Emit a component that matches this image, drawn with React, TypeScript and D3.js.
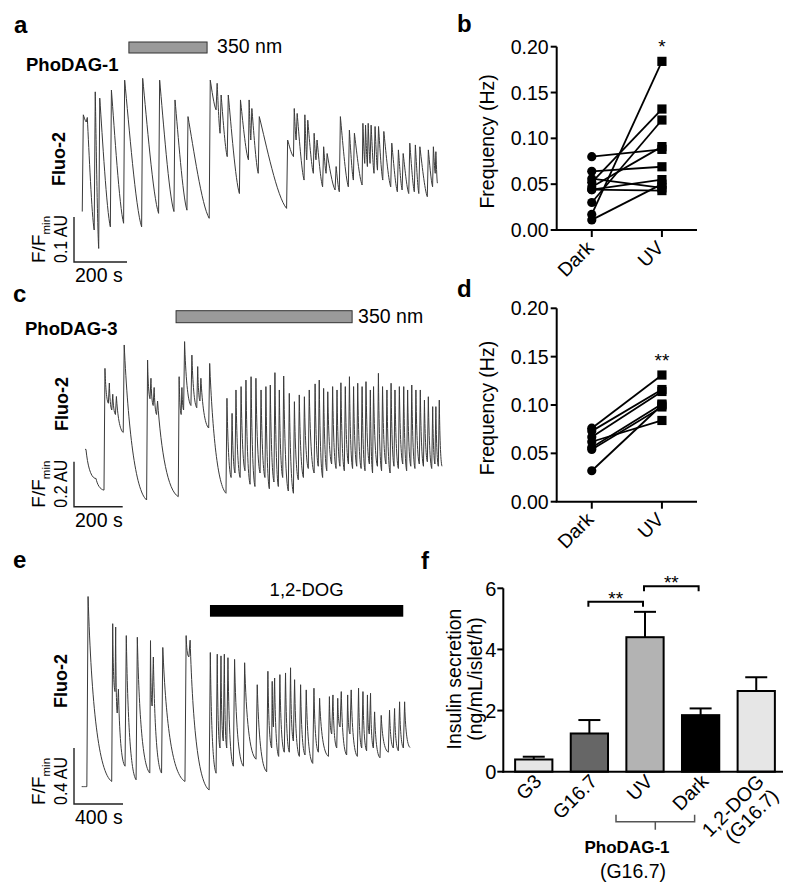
import React from "react";
import * as d3 from "d3";

type Ev = [number, number, number]; // [time (s), trough before rise (F/Fmin), peak (F/Fmin)]

// ---------- Panel a : PhoDAG-1 Fluo-2 trace ----------
const traceA: Ev[] = [
  [1, 1.081, 1.296], [16, 1.28, 1.29], [46, 1.04, 1.347], [63, 0.999, 1.333],
  [107, 1.047, 1.351], [157, 1.055, 1.373], [225, 1.047, 1.377], [289, 1.077, 1.373],
  [347, 1.081, 1.329], [396, 1.084, 1.292], [480, 1.066, 1.373], [506, 1.307, 1.366],
  [521, 1.255, 1.34], [548, 1.203, 1.34], [594, 1.121, 1.329], [628, 1.196, 1.329],
  [637, 1.24, 1.31], [665, 1.166, 1.292], [772, 1.088, 1.24], [798, 1.203, 1.31],
  [808, 1.24, 1.299], [838, 1.151, 1.296], [848, 1.196, 1.284], [873, 1.166, 1.255],
  [883, 1.196, 1.24], [908, 1.136, 1.225], [921, 1.166, 1.21], [955, 1.129, 1.181],
  [971, 1.125, 1.292], [1005, 1.136, 1.262], [1024, 1.151, 1.255], [1057, 1.14, 1.277],
  [1067, 1.188, 1.273], [1077, 1.181, 1.277], [1087, 1.188, 1.273], [1102, 1.166, 1.27],
  [1115, 1.173, 1.27], [1135, 1.151, 1.259], [1165, 1.136, 1.233], [1190, 1.125, 1.218],
  [1208, 1.129, 1.21], [1233, 1.121, 1.233], [1254, 1.125, 1.229], [1271, 1.121, 1.225],
  [1303, 1.114, 1.218], [1323, 1.136, 1.225], [1333, 1.166, 1.214],
];
const traceAEnd: [number, number] = [1341, 1.144];
const uvBarA: [number, number] = [177, 472];

// ---------- Panel c : PhoDAG-3 Fluo-2 trace ----------
const traceC: Ev[] = [
  [0, 1.225, 1.225], [41, 1.096, 1.096], [78, 1.044, 1.585], [96, 1.43, 1.52],
  [110, 1.4, 1.47], [125, 1.38, 1.46], [157, 1.3, 1.689], [253, 1.0, 1.622],
  [267, 1.45, 1.541], [280, 1.42, 1.5], [294, 1.38, 1.44], [383, 1.015, 1.548],
  [395, 1.38, 1.5], [405, 1.4, 1.704], [435, 1.42, 1.644], [459, 1.41, 1.593],
  [472, 1.44, 1.541], [508, 1.32, 1.607], [579, 1.03, 1.452], [600, 1.1, 1.385],
  [616, 1.12, 1.489], [637, 1.1, 1.504], [657, 1.13, 1.533], [678, 1.07, 1.548],
  [698, 1.06, 1.541], [719, 1.12, 1.489], [739, 1.1, 1.504], [757, 1.05, 1.511],
  [776, 1.08, 1.566], [794, 1.06, 1.489], [812, 1.1, 1.551], [835, 1.04, 1.474],
  [856, 1.03, 1.437], [876, 1.09, 1.467], [897, 1.1, 1.459], [917, 1.14, 1.489],
  [941, 1.12, 1.516], [958, 1.15, 1.533], [976, 1.1, 1.496], [993, 1.13, 1.481],
  [1013, 1.16, 1.504], [1031, 1.14, 1.489], [1047, 1.15, 1.521], [1065, 1.13, 1.504],
  [1082, 1.16, 1.548], [1099, 1.14, 1.504], [1116, 1.15, 1.519], [1134, 1.14, 1.504],
  [1150, 1.13, 1.526], [1168, 1.16, 1.489], [1181, 1.12, 1.504], [1201, 1.15, 1.563],
  [1218, 1.13, 1.504], [1236, 1.16, 1.489], [1253, 1.12, 1.519], [1269, 1.15, 1.489],
  [1287, 1.14, 1.504], [1305, 1.16, 1.504], [1321, 1.13, 1.489], [1338, 1.15, 1.511],
  [1355, 1.14, 1.489], [1373, 1.16, 1.489], [1390, 1.15, 1.444], [1406, 1.17, 1.459],
  [1424, 1.14, 1.415], [1437, 1.16, 1.415], [1451, 1.15, 1.444],
];
const traceCEnd: [number, number] = [1466, 1.15];
const uvBarC: [number, number] = [374, 1097];

// ---------- Panel e : 1,2-DOG Fluo-2 trace ----------
const traceE: Ev[] = [
  [0, 1.024, 1.024], [42, 1.024, 2.382], [245, 1.061, 2.188], [272, 1.703, 2.164],
  [290, 1.55, 1.72], [354, 1.17, 2.103], [444, 1.073, 2.091], [556, 1.121, 2.067],
  [575, 1.6, 1.95], [652, 1.121, 2.018], [843, 1.061, 2.103], [875, 1.95, 2.07],
  [1040, 1.0, 1.982], [1097, 1.12, 1.97], [1129, 1.3, 1.958], [1156, 1.35, 1.97],
  [1184, 1.3, 1.945], [1238, 1.17, 1.933], [1320, 1.17, 1.909], [1423, 1.22, 1.752],
  [1510, 1.13, 1.848], [1551, 1.3, 1.776], [1565, 1.45, 1.8], [1608, 1.24, 1.824],
  [1654, 1.27, 1.836], [1695, 1.27, 1.873], [1728, 1.35, 1.788], [1777, 1.24, 1.752],
  [1823, 1.25, 1.715], [1886, 1.19, 1.727], [1932, 1.27, 1.655], [2014, 1.24, 1.667],
  [2041, 1.4, 1.679], [2082, 1.3, 1.655], [2109, 1.45, 1.703], [2163, 1.25, 1.679],
  [2190, 1.4, 1.715], [2250, 1.24, 1.727], [2286, 1.3, 1.703], [2326, 1.28, 1.679],
  [2348, 1.4, 1.691], [2381, 1.3, 1.558], [2435, 1.23, 1.533], [2503, 1.27, 1.57],
  [2544, 1.3, 1.582], [2585, 1.28, 1.63], [2626, 1.3, 1.63],
];
const traceEEnd: [number, number] = [2680, 1.303];
const dogBarE: [number, number] = [1047, 2625];

// ---------- Panels b, d : paired frequencies ----------
const pairCats = ["Dark", "UV"];
const freqTicks = [0, 0.05, 0.1, 0.15, 0.2];
const bDark = [0.08, 0.064, 0.056, 0.052, 0.047, 0.044, 0.044, 0.03, 0.017, 0.011];
const bUV = [0.088, 0.069, 0.046, 0.132, 0.091, 0.055, 0.043, 0.12, 0.184, 0.05];
const dDark = [0.076, 0.073, 0.067, 0.062, 0.056, 0.054, 0.032];
const dUV = [0.131, 0.116, 0.114, 0.084, 0.101, 0.098, 0.1];

// ---------- Panel f : insulin secretion ----------
const insulinCats = ["G3", "G16.7", "UV", "Dark", "1,2-DOG"];
const insulinMean = [0.4, 1.25, 4.4, 1.85, 2.64];
const insulinSem = [0.09, 0.44, 0.83, 0.22, 0.45];
const insulinTicks = [0, 2, 4, 6];
const insulinFills = ["#e6e6e6", "#666666", "#b3b3b3", "#000000", "#e6e6e6"];

const FONT = "'Liberation Sans', Arial, Helvetica, sans-serif";
const AX_FS = 19.5;

type Shape = [number, number, number, number];

function tracePath(ev: Ev[], end: [number, number], xs: any, ys: any, rise: number, sh: Shape) {
  const p = d3.path();
  ev.forEach((e, i) => {
    const [t, b, pk] = e;
    const nx = i < ev.length - 1 ? ev[i + 1] : end;
    const tn = nx[0], bn = nx[1];
    const r = Math.min(rise, 0.3 * (tn - t));
    if (i === 0) p.moveTo(xs(t), ys(b));
    else p.lineTo(xs(t), ys(b));
    const tp = t + r;
    p.lineTo(xs(tp), ys(pk));
    const dt = tn - tp;
    const amp = pk - bn;
    p.bezierCurveTo(xs(tp + sh[0] * dt), ys(bn + sh[1] * amp), xs(tp + sh[2] * dt), ys(bn + sh[3] * amp), xs(tn), ys(bn));
  });
  return p.toString();
}

function ScaleBar({ cx, cy, xs, ys, tLen, vLen, tLabel, vLabel }: any) {
  const w = xs(tLen) - xs(0);
  const h = ys(1) - ys(1 + vLen);
  return (
    <g>
      <path d={`M${cx},${cy - h}V${cy}H${cx + w}`} fill="none" stroke="#222" strokeWidth={1.4} />
      <text x={cx + 1} y={cy + 20} fontSize={19.5}>{tLabel}</text>
      <text transform={`translate(${cx - 29},${cy + 1}) rotate(-90)`} fontSize={19}>
        F/F<tspan fontSize={11.5} dy={5}>min</tspan>
      </text>
      <text transform={`translate(${cx - 7},${cy + 1}) rotate(-90)`} fontSize={19} textLength={48} lengthAdjust="spacingAndGlyphs">
        {vLabel}
      </text>
    </g>
  );
}

function PairPanel({ dark, uv, y0, y1, star, letter, letterY }: any) {
  const x = d3.scalePoint().domain(pairCats).range([556.7, 697]).padding(0.5);
  const y = d3.scaleLinear().domain([0, 0.2]).range([y0, y1]);
  const ax = 556.7;
  const xd = x("Dark") as number;
  const xu = x("UV") as number;
  const line = d3.line<[number, number]>().x((d) => d[0]).y((d) => d[1]);
  const maxUV = d3.max(uv as number[]) as number;
  return (
    <g>
      <text x={457} y={letterY} fontSize={24} fontWeight="bold">{letter}</text>
      <line x1={ax} x2={ax} y1={y(0)} y2={y(0.2)} stroke="#000" strokeWidth={2} />
      <line x1={ax - 1} x2={697} y1={y(0)} y2={y(0)} stroke="#000" strokeWidth={2} />
      {freqTicks.map((t) => (
        <g key={t}>
          <line x1={ax - 6} x2={ax} y1={y(t)} y2={y(t)} stroke="#000" strokeWidth={2} />
          <text x={ax - 8} y={y(t)} dy="0.36em" textAnchor="end" fontSize={AX_FS}>{t.toFixed(2)}</text>
        </g>
      ))}
      {pairCats.map((c) => (
        <g key={c}>
          <line x1={x(c) as number} x2={x(c) as number} y1={y(0)} y2={y(0) + 7} stroke="#000" strokeWidth={2} />
          <text transform={`translate(${(x(c) as number) + 3},${y(0) + 19}) rotate(-45)`} textAnchor="end" fontSize={AX_FS}>{c}</text>
        </g>
      ))}
      <text transform={`translate(494,${(y(0) + y(0.2)) / 2 + 3}) rotate(-90)`} textAnchor="middle" fontSize={AX_FS}>Frequency (Hz)</text>
      {dark.map((dv: number, i: number) => (
        <path key={"l" + i} d={line([[xd, y(dv)], [xu, y(uv[i])]]) as string} stroke="#000" strokeWidth={1.8} fill="none" />
      ))}
      {dark.map((dv: number, i: number) => (
        <circle key={"c" + i} cx={xd} cy={y(dv)} r={4.6} fill="#000" />
      ))}
      {uv.map((uvv: number, i: number) => (
        <rect key={"s" + i} x={xu - 4.6} y={y(uvv) - 4.6} width={9.2} height={9.2} fill="#000" />
      ))}
      <text x={xu} y={y(maxUV) - 8} textAnchor="middle" fontSize={19}>{star}</text>
    </g>
  );
}

function InsulinPanel() {
  const x = d3.scaleBand().domain(insulinCats).range([504, 786]).paddingInner(0.33).paddingOuter(0.2);
  const y = d3.scaleLinear().domain([0, 6]).range([771.7, 588.3]);
  const ax = 503.3;
  const bw = x.bandwidth();
  const cx = (c: string) => (x(c) as number) + bw / 2;
  const brackets = [
    { a: "G16.7", b: "UV", v: 5.56 },
    { a: "UV", b: "Dark", v: 6.07 },
  ];
  const uvL = cx("UV") - 29;
  const dkR = cx("Dark") - 6;
  const gy = 821.7;
  return (
    <g>
      <text x={421} y={569} fontSize={24} fontWeight="bold">f</text>
      {insulinCats.map((c, i) => (
        <g key={c}>
          <rect x={x(c)} y={y(insulinMean[i])} width={bw} height={y(0) - y(insulinMean[i])} fill={insulinFills[i]} stroke="#000" strokeWidth={2} />
          <line x1={cx(c)} x2={cx(c)} y1={y(insulinMean[i])} y2={y(insulinMean[i] + insulinSem[i])} stroke="#000" strokeWidth={2} />
          <line x1={cx(c) - 11} x2={cx(c) + 11} y1={y(insulinMean[i] + insulinSem[i])} y2={y(insulinMean[i] + insulinSem[i])} stroke="#000" strokeWidth={2} />
        </g>
      ))}
      <line x1={ax} x2={ax} y1={y(0) + 1} y2={y(6)} stroke="#000" strokeWidth={2} />
      <line x1={ax - 1} x2={783} y1={y(0)} y2={y(0)} stroke="#000" strokeWidth={2} />
      {insulinTicks.map((t) => (
        <g key={t}>
          <line x1={ax - 6} x2={ax} y1={y(t)} y2={y(t)} stroke="#000" strokeWidth={2} />
          <text x={ax - 7} y={y(t)} dy="0.36em" textAnchor="end" fontSize={20}>{t}</text>
        </g>
      ))}
      {insulinCats.map((c) => (
        <text key={"t" + c} transform={`translate(${cx(c) + 9},${y(0) + 11}) rotate(-45)`} textAnchor="end" fontSize={AX_FS}>
          {c}
          {c === "1,2-DOG" ? <tspan x={0} dy="1.05em">(G16.7)</tspan> : null}
        </text>
      ))}
      {brackets.map((br, i) => {
        const x1 = cx(br.a) - 1;
        const x2 = cx(br.b) - 2;
        const yy = y(br.v);
        return (
          <g key={i}>
            <path d={`M${x1},${yy + 5}V${yy}H${x2}V${yy + 5}`} fill="none" stroke="#000" strokeWidth={2} />
            <text x={(x1 + x2) / 2} y={yy + 3} textAnchor="middle" fontSize={19}>**</text>
          </g>
        );
      })}
      <path d={`M${uvL},${gy - 7}V${gy}H${dkR}V${gy - 7}M${(uvL + dkR) / 2},${gy}V${gy + 8}`} fill="none" stroke="#555" strokeWidth={1.5} />
      <text x={627} y={853} textAnchor="middle" fontSize={17} fontWeight="bold">PhoDAG-1</text>
      <text x={633} y={878} textAnchor="middle" fontSize={AX_FS}>(G16.7)</text>
      <text transform={`translate(461,679) rotate(-90)`} textAnchor="middle" fontSize={AX_FS}>Insulin secretion</text>
      <text transform={`translate(482,679) rotate(-90)`} textAnchor="middle" fontSize={AX_FS}>(ng/mL/islet/h)</text>
    </g>
  );
}

export default function App() {
  const xA = d3.scaleLinear().domain([0, 200]).range([82, 135]);
  const yA = d3.scaleLinear().domain([1, 1.1]).range([248, 203]);
  const xC = d3.scaleLinear().domain([0, 200]).range([85, 133.7]);
  const yC = d3.scaleLinear().domain([1, 1.2]).range([500, 455]);
  const xE = d3.scaleLinear().domain([0, 400]).range([81.7, 130.7]);
  const yE = d3.scaleLinear().domain([1, 1.4]).range([790, 734]);
  const traceStroke = "#3a3a3a";
  const shapeA: Shape = [0.25, 0.7, 0.65, 0.12];
  const shapeC: Shape = [0.18, 0.45, 0.5, 0.06];
  const shapeE: Shape = [0.15, 0.4, 0.45, 0.05];

  return (
    <svg width={800} height={892} style={{ position: "absolute", left: 0, top: 0, background: "#fff" }} fontFamily={FONT}>
      <rect width={800} height={892} fill="#fff" />

      {/* Panel a */}
      <text x={14} y={33} fontSize={24} fontWeight="bold">a</text>
      <rect x={xA(uvBarA[0])} y={42} width={xA(uvBarA[1]) - xA(uvBarA[0])} height={11} fill="#9a9a9a" stroke="#333" strokeWidth={1} />
      <text x={xA(uvBarA[1]) + 10} y={53} fontSize={19.5}>350 nm</text>
      <text x={26} y={71} fontSize={18.5} fontWeight="bold">PhoDAG-1</text>
      <text transform="translate(65,159) rotate(-90)" textAnchor="middle" fontSize={18} fontWeight="bold">Fluo-2</text>
      <path d={tracePath(traceA, traceAEnd, xA, yA, 4, shapeA)} fill="none" stroke={traceStroke} strokeWidth={1} />
      <ScaleBar cx={74} cy={262} xs={xA} ys={yA} tLen={200} vLen={0.1} tLabel="200 s" vLabel="0.1 AU" />

      {/* Panel b */}
      <PairPanel dark={bDark} uv={bUV} y0={230} y1={46.7} star="*" letter="b" letterY={32} />

      {/* Panel c */}
      <text x={13} y={302} fontSize={24} fontWeight="bold">c</text>
      <rect x={xC(uvBarC[0])} y={310.7} width={xC(uvBarC[1]) - xC(uvBarC[0])} height={12} fill="#9a9a9a" stroke="#333" strokeWidth={1} />
      <text x={xC(uvBarC[1]) + 6} y={323} fontSize={19.5}>350 nm</text>
      <text x={25} y={335} fontSize={18.5} fontWeight="bold">PhoDAG-3</text>
      <text transform="translate(68,404) rotate(-90)" textAnchor="middle" fontSize={18} fontWeight="bold">Fluo-2</text>
      <path d={tracePath(traceC, traceCEnd, xC, yC, 4, shapeC)} fill="none" stroke={traceStroke} strokeWidth={1} />
      <ScaleBar cx={74} cy={506.7} xs={xC} ys={yC} tLen={200} vLen={0.2} tLabel="200 s" vLabel="0.2 AU" />

      {/* Panel d */}
      <PairPanel dark={dDark} uv={dUV} y0={501.7} y1={308.3} star="**" letter="d" letterY={297} />

      {/* Panel e */}
      <text x={13} y={568} fontSize={24} fontWeight="bold">e</text>
      <rect x={xE(dogBarE[0])} y={605} width={xE(dogBarE[1]) - xE(dogBarE[0])} height={11.7} fill="#000" />
      <text x={(xE(dogBarE[0]) + xE(dogBarE[1])) / 2} y={596} textAnchor="middle" fontSize={18.5}>1,2-DOG</text>
      <text transform="translate(67,681) rotate(-90)" textAnchor="middle" fontSize={18} fontWeight="bold">Fluo-2</text>
      <path d={tracePath(traceE, traceEEnd, xE, yE, 10, shapeE)} fill="none" stroke={traceStroke} strokeWidth={1} />
      <ScaleBar cx={74} cy={804} xs={xE} ys={yE} tLen={400} vLen={0.4} tLabel="400 s" vLabel="0.4 AU" />

      {/* Panel f */}
      <InsulinPanel />
    </svg>
  );
}
